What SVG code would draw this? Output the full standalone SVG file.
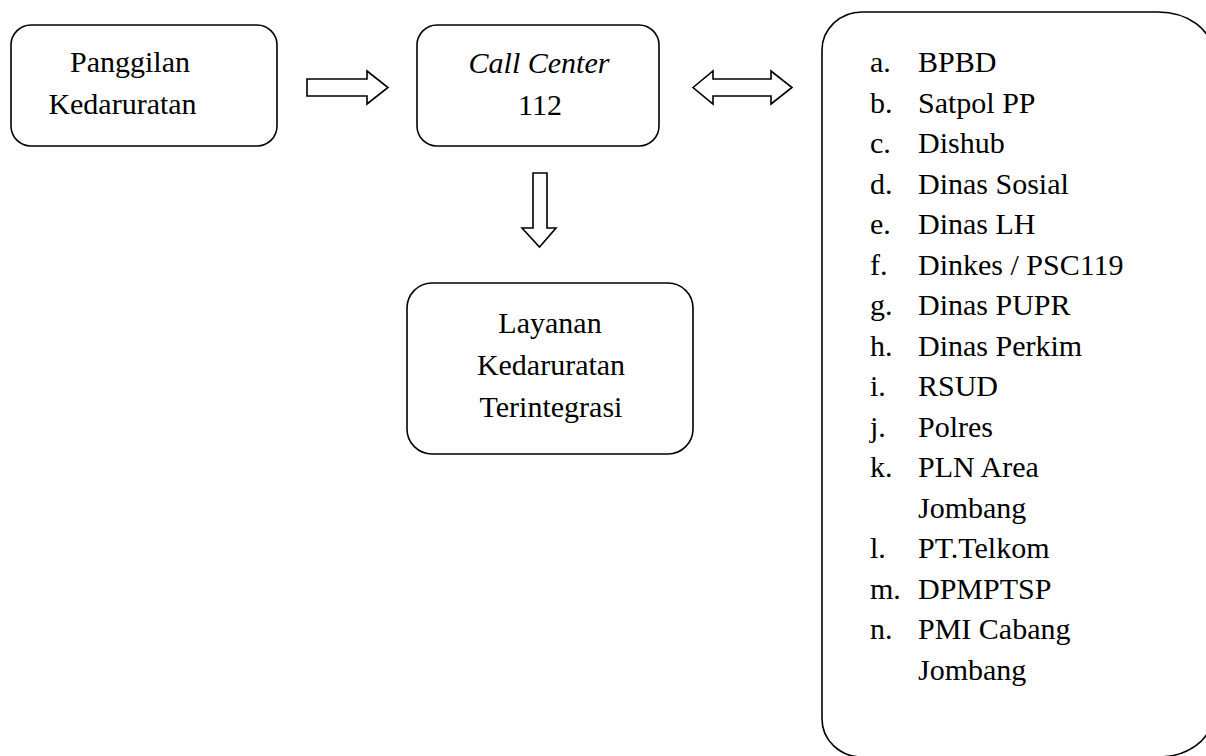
<svg xmlns="http://www.w3.org/2000/svg" width="1206" height="756" viewBox="0 0 1206 756">
  <style>
    .box { fill: #ffffff; stroke: #000000; stroke-width: 1.6; }
    .arrow { fill: #ffffff; stroke: #000000; stroke-width: 1.6; stroke-linejoin: miter; }
    .t { font-family: "Liberation Serif", "Times New Roman", serif; font-size: 30px; fill: #000000; }
    .c { text-anchor: middle; }
    .i { font-style: italic; }
  </style>
  <rect width="1206" height="756" fill="#ffffff"/>

  <!-- incoming call -->
  <g id="node-panggilan">
    <rect class="box" x="11" y="25" width="266" height="121" rx="20" ry="20"/>
    <text class="t c" x="130" y="72">Panggilan</text>
    <text class="t c" x="122.5" y="114">Kedaruratan</text>
  </g>

  <!-- call center -->
  <g id="node-callcenter">
    <rect class="box" x="417" y="25" width="242" height="121" rx="20" ry="20"/>
    <text class="t c i" x="539" y="73">Call Center</text>
    <text class="t c" x="540" y="115">112</text>
  </g>

  <!-- integrated service -->
  <g id="node-layanan">
    <rect class="box" x="407" y="283" width="286" height="171" rx="25" ry="25"/>
    <text class="t c" x="550" y="333">Layanan</text>
    <text class="t c" x="551" y="375">Kedaruratan</text>
    <text class="t c" x="551" y="417">Terintegrasi</text>
  </g>

  <!-- agencies list -->
  <g id="node-instansi">
    <path class="box" d="M 862 12 H 1158 A 54 40 0 0 1 1212 52 V 717 A 54 40 0 0 1 1158 757 H 862 A 40 38 0 0 1 822 719 V 50 A 40 38 0 0 1 862 12 Z"/>
    <g class="t">
      <text x="870" y="72">a.</text><text x="918" y="72">BPBD</text>
      <text x="870" y="112.5">b.</text><text x="918" y="112.5">Satpol PP</text>
      <text x="870" y="153">c.</text><text x="918" y="153">Dishub</text>
      <text x="870" y="193.5">d.</text><text x="918" y="193.5">Dinas Sosial</text>
      <text x="870" y="234">e.</text><text x="918" y="234">Dinas LH</text>
      <text x="870" y="274.5">f.</text><text x="918" y="274.5">Dinkes / PSC119</text>
      <text x="870" y="315">g.</text><text x="918" y="315">Dinas PUPR</text>
      <text x="870" y="355.5">h.</text><text x="918" y="355.5">Dinas Perkim</text>
      <text x="870" y="396">i.</text><text x="918" y="396">RSUD</text>
      <text x="870" y="436.5">j.</text><text x="918" y="436.5">Polres</text>
      <text x="870" y="477">k.</text><text x="918" y="477">PLN Area</text>
      <text x="918" y="517.5">Jombang</text>
      <text x="870" y="558">l.</text><text x="918" y="558">PT.Telkom</text>
      <text x="870" y="598.5">m.</text><text x="918" y="598.5">DPMPTSP</text>
      <text x="870" y="639">n.</text><text x="918" y="639">PMI Cabang</text>
      <text x="918" y="679.5">Jombang</text>
    </g>
  </g>

  <!-- block arrows between nodes -->
  <g id="connectors">
    <path class="arrow" d="M 307 79 H 367 V 71 L 388 87.5 L 367 104 V 96 H 307 Z"/>
    <path class="arrow" d="M 693 87.5 L 713 71 V 79 H 771 V 71 L 792 87.5 L 771 104 V 96 H 713 V 104 Z"/>
    <path class="arrow" d="M 533 173 H 547 V 228 H 556 L 539.5 247 L 522 228 H 533 Z"/>
  </g>
</svg>
